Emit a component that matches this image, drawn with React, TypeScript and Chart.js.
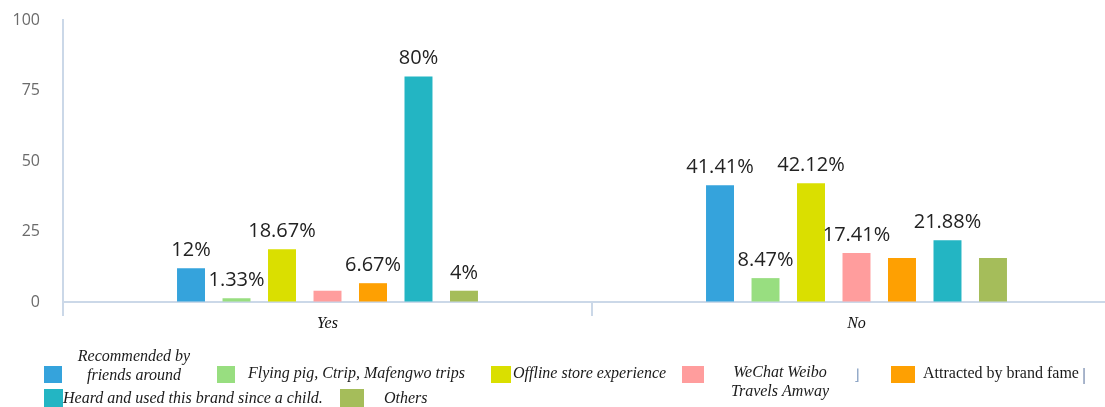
import React, { useEffect, useRef } from "react";
import { Chart, registerables } from "chart.js";

Chart.register(...registerables);

// ---- data ----
const categories = ["Yes", "No"];

const seriesNames: string[][] = [
  ["Recommended by", "friends around"],
  ["Flying pig, Ctrip, Mafengwo trips"],
  ["Offline store experience"],
  ["WeChat Weibo", "Travels Amway"],
  ["Attracted by brand fame"],
  ["Heard and used this brand since a child."],
  ["Others"],
];

const recommendedValues = [12, 41.41];
const flyingPigValues = [1.33, 8.47];
const offlineValues = [18.67, 42.12];
const wechatValues = [4, 17.41];
const brandFameValues = [6.67, 15.6];
const heardValues = [80, 21.88];
const othersValues = [4, 15.6];

const seriesValues = [
  recommendedValues,
  flyingPigValues,
  offlineValues,
  wechatValues,
  brandFameValues,
  heardValues,
  othersValues,
];

// whether the value label is shown above each bar (per series: [Yes, No])
const labelShown: boolean[][] = [
  [true, true],
  [true, true],
  [true, true],
  [false, true],
  [true, false],
  [true, true],
  [true, false],
];

const yTicks = [0, 25, 50, 75, 100];

const colors = ["#35a3dc", "#98de80", "#dadf00", "#ff9d9d", "#fea002", "#23b5c3", "#a5bd5a"];

const axisColor = "#cbd8e8";

// ---- legend layout (positions in px) ----
type LegendLayout = {
  sw: [number, number, number, number];
  x: number;
  align: CanvasTextAlign;
  ys: number[];
  italic: boolean;
};
const legendLayout: LegendLayout[] = [
  { sw: [44, 366, 18, 17], x: 134, align: "center", ys: [357, 376], italic: true },
  { sw: [217, 366, 18, 17], x: 248, align: "left", ys: [374], italic: true },
  { sw: [491, 366, 20, 17], x: 513, align: "left", ys: [374], italic: true },
  { sw: [682, 366, 22, 17], x: 780, align: "center", ys: [373, 392], italic: true },
  { sw: [891, 366, 24, 17], x: 923, align: "left", ys: [374], italic: false },
  { sw: [44, 389, 19, 18], x: 63, align: "left", ys: [399], italic: true },
  { sw: [340, 389, 24, 18], x: 384, align: "left", ys: [399], italic: true },
];

const valueLabelPlugin = {
  id: "valueLabels",
  afterDatasetsDraw(chart: any) {
    const ctx = chart.ctx;
    ctx.save();
    ctx.font = '20px "Open Sans"';
    ctx.fillStyle = "#222";
    ctx.textAlign = "center";
    ctx.textBaseline = "alphabetic";
    chart.data.datasets.forEach((ds: any, i: number) => {
      const meta = chart.getDatasetMeta(i);
      meta.data.forEach((el: any, j: number) => {
        if (!labelShown[i][j]) return;
        ctx.fillText(String(ds.data[j]) + "%", el.x, el.y - 12);
      });
    });
    ctx.restore();
  },
};

const legendPlugin = {
  id: "customLegend",
  afterDraw(chart: any) {
    const ctx = chart.ctx;
    ctx.save();
    legendLayout.forEach((l, i) => {
      ctx.fillStyle = colors[i];
      ctx.fillRect(l.sw[0], l.sw[1], l.sw[2], l.sw[3]);
      ctx.fillStyle = "#1a1a1a";
      ctx.font = (l.italic ? "italic " : "") + '16px "Liberation Serif"';
      ctx.textAlign = l.align;
      ctx.textBaseline = "middle";
      seriesNames[i].forEach((line, k) => {
        ctx.fillText(line, l.x, l.ys[k]);
      });
    });
    ctx.font = '15px "DejaVu Sans"';
    ctx.textAlign = "center";
    ctx.textBaseline = "middle";
    ctx.fillStyle = "#8ea6c6";
    ctx.fillText("⌋", 857, 376);
    ctx.fillStyle = "#7a8db0";
    ctx.fillText("|", 1084, 376);
    ctx.restore();
  },
};

export default function App() {
  const ref = useRef<HTMLCanvasElement | null>(null);

  useEffect(() => {
    if (!ref.current) return;
    const chart = new Chart(ref.current, {
      type: "bar",
      data: {
        labels: categories,
        datasets: seriesNames.map((n, i) => ({
          label: n.join(" "),
          data: seriesValues[i],
          backgroundColor: colors[i],
          categoryPercentage: 0.602,
          barPercentage: 0.615,
        })),
      },
      options: {
        responsive: false,
        animation: false,
        events: [],
        layout: { padding: { top: 20, right: 19, left: 0, bottom: 0 } },
        plugins: {
          legend: { display: false },
          tooltip: { enabled: false },
        },
        scales: {
          x: {
            offset: true,
            grid: {
              offset: true,
              drawOnChartArea: false,
              drawTicks: true,
              tickLength: 14,
              color: axisColor,
              lineWidth: 2,
            },
            border: { color: axisColor, width: 2 },
            ticks: {
              font: { family: '"Liberation Serif"', style: "italic", size: 16 },
              color: "#111",
              padding: -2,
            },
            afterFit: (s: any) => {
              s.height = 105;
              s.paddingLeft = 0;
              s.paddingRight = 0;
            },
          },
          y: {
            min: 0,
            max: 100,
            afterBuildTicks: (s: any) => {
              s.ticks = yTicks.map((v) => ({ value: v }));
            },
            ticks: {
              padding: 23,
              font: { family: '"Open Sans"', size: 16 },
              color: "#6b6b6b",
            },
            grid: { drawOnChartArea: false, drawTicks: false, color: axisColor },
            border: { color: axisColor, width: 2 },
            afterFit: (s: any) => {
              s.width = 63;
              s.paddingTop = 0;
              s.paddingBottom = 0;
            },
          },
        },
      },
      plugins: [valueLabelPlugin, legendPlugin],
    } as any);
    return () => chart.destroy();
  }, []);

  return (
    <div
      style={{
        position: "fixed",
        left: 0,
        top: 0,
        width: 1105,
        height: 407,
        overflow: "hidden",
        background: "#fff",
      }}
    >
      <canvas ref={ref} width={1140} height={407} style={{ display: "block", width: 1140, height: 407 }} />
    </div>
  );
}
